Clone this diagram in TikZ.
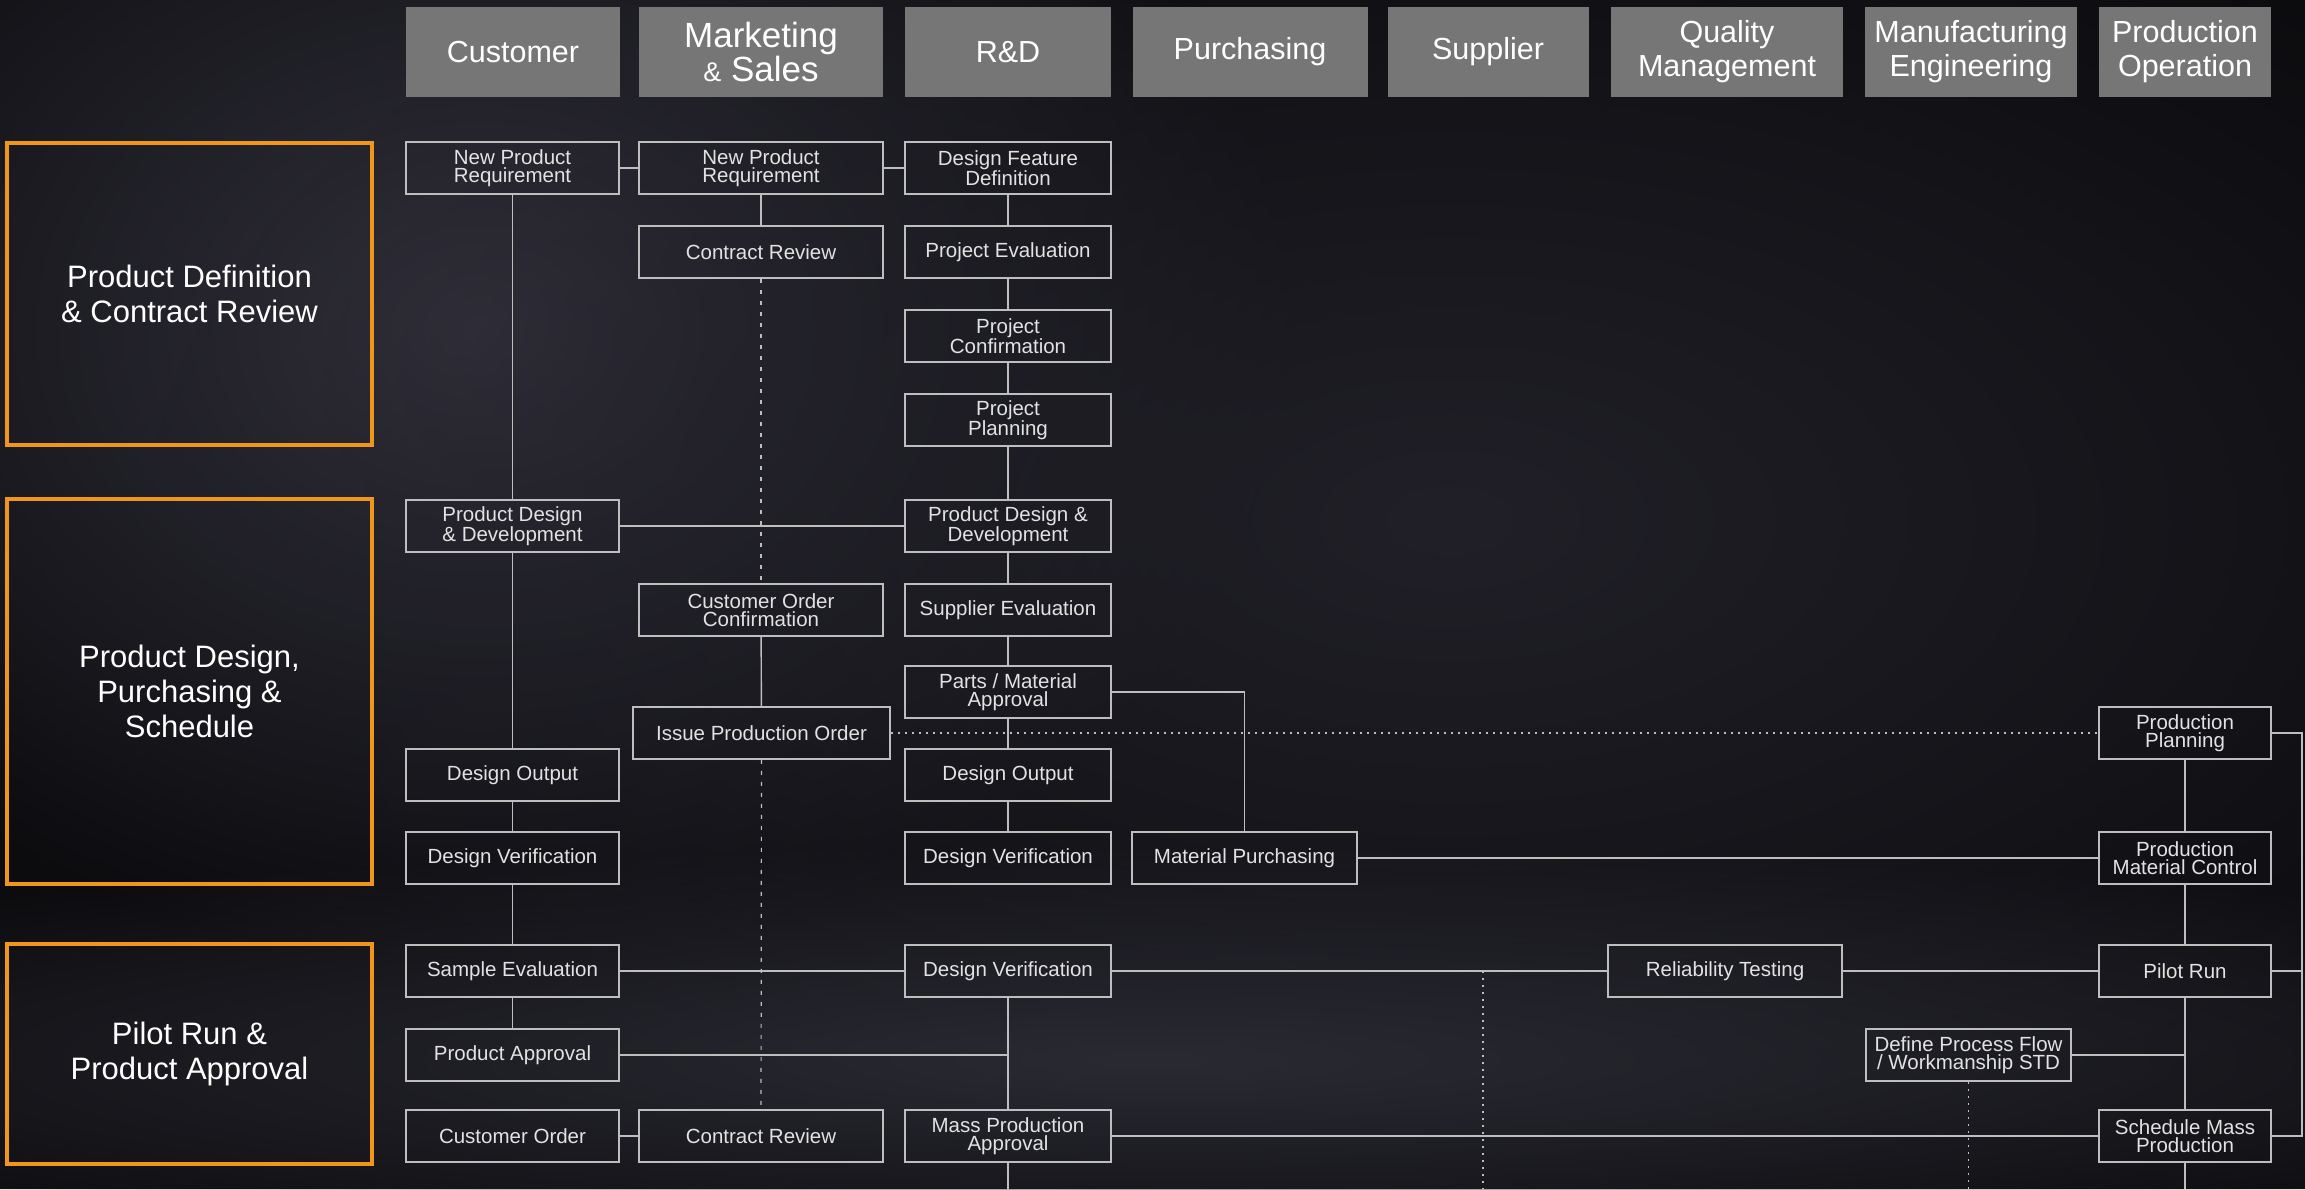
\documentclass[tikz,border=0pt]{standalone}
\usepackage[dvipsnames]{xcolor}
\usepackage{fontspec}
\setmainfont{Liberation Sans}
\usepackage{tikz}
\usetikzlibrary{fadings}

\definecolor{fondo}{RGB}{12,12,15}
\definecolor{brillo}{RGB}{50,49,60}
\definecolor{cabecera}{RGB}{118,118,118}
\definecolor{naranja}{RGB}{240,150,26}
\definecolor{borde}{RGB}{190,190,190}
\definecolor{texto}{RGB}{226,226,226}
\tikzfading[name=glowfade, inner color=transparent!0, outer color=transparent!100]

\begin{document}
\begin{tikzpicture}[x=1pt, y=-1pt,
        hdr/.style={fill=cabecera, minimum height=90pt, inner sep=0pt, text=white, align=center, font=\fontsize{30.5}{34}\selectfont},
        fase/.style={draw=naranja, line width=3.5pt, minimum width=365pt, inner sep=0pt, text=white, align=center, font=\fontsize{31}{35}\selectfont},
        caja/.style={draw=borde, line width=1.8pt, minimum height=52pt, inner sep=0pt, text=texto, align=center, font=\fontsize{20.5}{17.5}\selectfont},
        cust/.style={caja, minimum width=213pt},
        mkt/.style={caja, minimum width=244pt},
        rd/.style={caja, minimum width=206pt},
        prod/.style={caja, minimum width=172pt},
        linea/.style={draw=borde, line width=1.4pt},
        rayado/.style={draw=borde, line width=1.2pt, dash pattern=on 4pt off 7pt},
        punteado/.style={draw=borde, line width=1.6pt, dash pattern=on 2pt off 5pt}]
            \useasboundingbox (0,0) rectangle (2305,1189);
            % fondo
            \fill[fondo] (0,0) rectangle (2305,1189);
            \fill[brillo, path fading=glowfade] (480,330) ellipse [x radius=820pt, y radius=640pt];
            \fill[brillo!55!fondo, path fading=glowfade] (1450,520) ellipse [x radius=1300pt, y radius=700pt];
            \fill[brillo!80!fondo, path fading=glowfade] (1150,1060) ellipse [x radius=1800pt, y radius=220pt];
            \coordinate (pie) at (0,1189);

            \foreach \n/\x/\w/\t in {hcust/513/214/Customer,
                    hmkt/761/244/{\fontsize{35}{39}\selectfont Marketing\\\fontsize{35}{39}\selectfont{\fontsize{27}{30}\selectfont\&} Sales},
                    hrd/1008/206/R\&D, hpur/1250/235/Purchasing, hsup/1488/201/Supplier,
                    hqm/1727/232/{Quality\\Management}, hme/1971/212/{Manufacturing\\Engineering},
                    hpo/2185/172/{Production\\Operation}}
                \node[hdr, minimum width=\w pt] (\n) at (\x,52) {\t};

            \node[fase, minimum height=302pt] (ph1) at (189.5,294) {Product Definition\\\& Contract Review};
            \node[fase, minimum height=385pt] (ph2) at (189.5,691.5) {Product Design,\\Purchasing \&\\Schedule};
            \node[fase, minimum height=220pt] (ph3) at (189.5,1054) {Pilot Run \&\\Product Approval};

            % Customer
            \node[cust] (cnpr) at (512.5,168) {New Product\\Requirement};
            \node[cust] (cpdd) at (512.5,526) {Product Design\\\& Development};
            \node[cust] (cdo) at (512.5,775) {Design Output};
            \node[cust] (cdv) at (512.5,858) {Design Verification};
            \node[cust] (se) at (512.5,971) {Sample Evaluation};
            \node[cust] (pa) at (512.5,1055) {Product Approval};
            \node[cust] (co) at (512.5,1136) {Customer Order};
            % Marketing & Sales
            \node[mkt] (mnpr) at (761,168) {New Product\\Requirement};
            \node[mkt] (mcr1) at (761,252) {Contract Review};
            \node[mkt] (coc) at (761,610) {Customer Order\\Confirmation};
            \node[mkt, minimum width=257pt] (ipo) at (761.5,733) {Issue Production Order};
            \node[mkt] (mcr2) at (761,1136) {Contract Review};
            % R&D
            \node[rd] (dfd) at (1008,168) {Design Feature\\Definition};
            \node[rd] (peval) at (1008,252) {Project Evaluation};
            \node[rd] (pconf) at (1008,336) {Project\\Confirmation};
            \node[rd] (pplan) at (1008,420) {Project\\Planning};
            \node[rd] (rpdd) at (1008,526) {Product Design \&\\Development};
            \node[rd] (seval) at (1008,610) {Supplier Evaluation};
            \node[rd] (pma) at (1008,692) {Parts / Material\\Approval};
            \node[rd] (rdo) at (1008,775) {Design Output};
            \node[rd] (rdv1) at (1008,858) {Design Verification};
            \node[rd] (rdv2) at (1008,971) {Design Verification};
            \node[rd] (mpa) at (1008,1136) {Mass Production\\Approval};
            % resto
            \node[caja, minimum width=225pt] (mpur) at (1244.5,858) {Material Purchasing};
            \node[caja, minimum width=234pt] (rt) at (1725,971) {Reliability Testing};
            \node[caja, minimum width=205pt] (dpf) at (1968.5,1055) {Define Process Flow\\/ Workmanship STD};
            \node[prod] (pp) at (2185,733) {Production\\Planning};
            \node[prod] (pmc) at (2185,858) {Production\\Material Control};
            \node[prod] (pr) at (2185,971) {Pilot Run};
            \node[prod] (smp) at (2185,1136) {Schedule Mass\\Production};

            \draw[linea] (cnpr) -- (mnpr) -- (dfd);
            \draw[linea] (mnpr) -- (mcr1);
            \draw[rayado] (mcr1) -- (coc);
            \draw[linea] (coc) -- (ipo);
            \draw[rayado] (ipo) -- (mcr2);
            \draw[linea] (dfd) -- (peval) -- (pconf) -- (pplan) -- (rpdd) -- (seval) -- (pma) -- (rdo) -- (rdv1);
            \draw[linea] (cnpr) -- (cpdd) -- (cdo) -- (cdv) -- (se) -- (pa);
            \draw[linea] (cpdd) -- (rpdd);
            \draw[linea] (pma) -| (mpur);
            \draw[punteado] (ipo) -- (pp);
            \draw[linea] (mpur) -- (pmc);
            \draw[linea] (pp) -- (pmc) -- (pr) -- (smp) -- (smp |- pie);
            \draw[linea] (se) -- (rdv2) -- (rt) -- (pr);
            \draw[linea] (rdv2) -- (mpa) -- (mpa |- pie);
            \draw[linea] (pa) -- (pa -| rdv2);
            \draw[linea] (co) -- (mcr2);
            \draw[linea] (mpa) -- (smp);
            \draw[linea] (dpf) -- (dpf -| pr);
            \draw[punteado] (dpf) -- (dpf |- pie);
            \coordinate (sup) at (1483,971);
            \draw[punteado] (sup) -- (sup |- pie);
            \coordinate (brk) at (2302,733);
            \draw[linea] (pp) -- (brk) |- (smp);
            \draw[linea] (pr) -- (pr -| brk);
        \end{tikzpicture}
\end{document}
